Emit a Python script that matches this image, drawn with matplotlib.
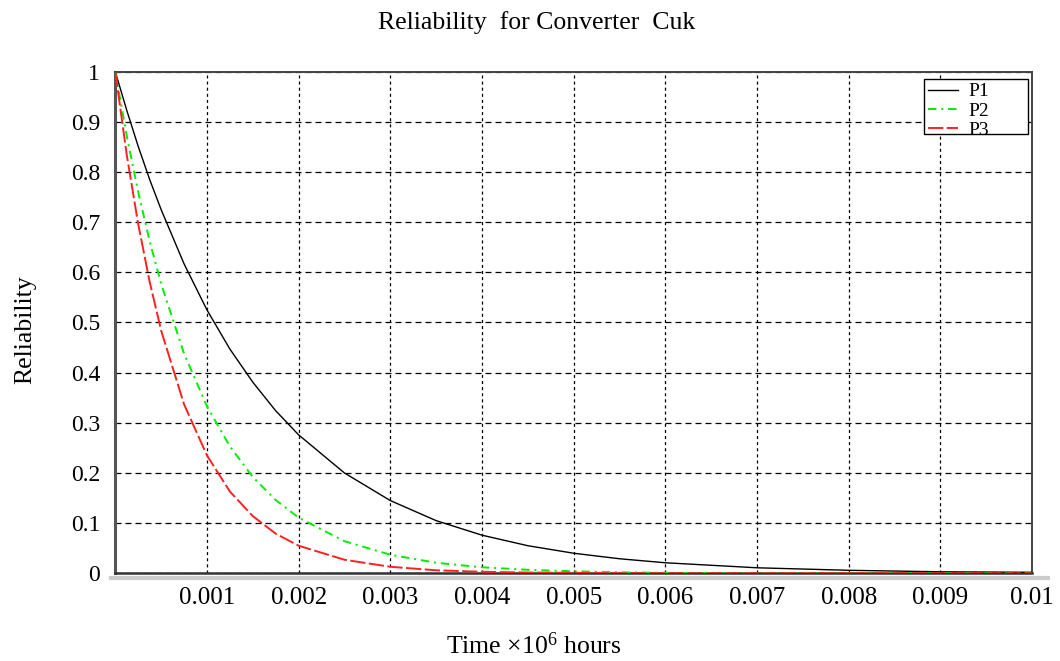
import matplotlib
matplotlib.use('Agg')
import matplotlib.pyplot as plt
from matplotlib.lines import Line2D
from matplotlib.patches import Rectangle

plt.rcParams['font.family'] = ['Liberation Serif', 'DejaVu Serif']
plt.rcParams['mathtext.fontset'] = 'custom'
plt.rcParams['mathtext.rm'] = 'Liberation Serif'
plt.rcParams['mathtext.it'] = 'Liberation Serif:italic'
plt.rcParams['lines.scale_dashes'] = False

# time in units of 10^6 hours
time = [0, 0.000125, 0.00025, 0.000375, 0.0005, 0.00075, 0.001, 0.00125,
        0.0015, 0.00175, 0.002, 0.0025, 0.003, 0.0035, 0.004, 0.0045,
        0.005, 0.0055, 0.006, 0.007, 0.008, 0.009, 0.01]

p1 = [1, 0.923, 0.851, 0.785, 0.725, 0.617, 0.525, 0.447, 0.381, 0.324,
      0.276, 0.200, 0.145, 0.105, 0.076, 0.055, 0.040, 0.029, 0.021,
      0.011, 0.006, 0.003, 0.002]
p2 = [1, 0.872, 0.760, 0.662, 0.577, 0.438, 0.333, 0.253, 0.192, 0.146,
      0.111, 0.064, 0.037, 0.021, 0.012, 0.007, 0.004, 0.002, 0.001,
      0, 0, 0, 0]
p3 = [1, 0.834, 0.696, 0.581, 0.484, 0.337, 0.235, 0.163, 0.114, 0.079,
      0.055, 0.027, 0.013, 0.006, 0.003, 0.0015, 0.001, 0, 0,
      0, 0, 0, 0]

x_ticks = [0.001, 0.002, 0.003, 0.004, 0.005, 0.006, 0.007, 0.008, 0.009, 0.01]
x_labels = ['0.001', '0.002', '0.003', '0.004', '0.005', '0.006', '0.007',
            '0.008', '0.009', '0.01']
y_ticks = [0, 0.1, 0.2, 0.3, 0.4, 0.5, 0.6, 0.7, 0.8, 0.9, 1]
y_labels = ['0', '0.1', '0.2', '0.3', '0.4', '0.5', '0.6', '0.7', '0.8',
            '0.9', '1']


def main():
    W, H = 1060, 661
    fig = plt.figure(figsize=(W / 100, H / 100), dpi=100)
    ax = fig.add_axes([115.3 / W, 1 - 573.3 / H, (1032 - 115.3) / W,
                       (573.3 - 71.7) / H])

    ax.plot(time, p1, color='black', lw=1.0, label='P1', zorder=3)
    ax.plot(time, p2, color='#00ee00', lw=1.4, label='P2', zorder=3,
            linestyle=(0, (6, 3.5, 1.5, 3.5)))
    ax.plot(time, p3, color='#ff2020', lw=1.4, label='P3', zorder=3,
            linestyle=(0, (11, 2.5)))

    ax.set_xlim(0, 0.01)
    ax.set_ylim(0, 1)
    ax.set_xticks(x_ticks)
    ax.set_xticklabels(x_labels)
    ax.set_yticks(y_ticks)
    ax.set_yticklabels(y_labels)
    ax.tick_params(axis='x', length=0, pad=10, labelsize=18)
    ax.tick_params(axis='y', length=0, pad=11, labelsize=17)

    ax.xaxis.grid(True, color='black', lw=0.9, linestyle=(0, (2.2, 2.2)))
    ax.yaxis.grid(True, color='black', lw=0.9, linestyle=(0, (4.3, 2.9)))
    ax.set_axisbelow(True)

    for side in ['top', 'right']:
        ax.spines[side].set_color('#444444')
        ax.spines[side].set_linewidth(1.4)
    ax.spines['left'].set_color('#555555')
    ax.spines['left'].set_linewidth(2.2)
    ax.spines['bottom'].set_color('#333333')
    ax.spines['bottom'].set_linewidth(1.8)

    # light grey shadow under the x axis
    fig.add_artist(Line2D([111 / W, 1048 / W], [1 - 577.5 / H, 1 - 577.5 / H],
                          color='#cccccc', lw=3, transform=fig.transFigure,
                          zorder=0))

    # legend box is drawn separately so it can be wider than its entries
    ax.add_patch(Rectangle((924 / W, 1 - 134 / H), 104 / W, 55 / H,
                           transform=fig.transFigure, facecolor='white',
                           edgecolor='black', lw=1.0, zorder=4))
    leg = ax.legend(loc='upper left', bbox_to_anchor=(924 / W, 1 - 79 / H),
                    bbox_transform=fig.transFigure, frameon=False,
                    borderpad=0.2, borderaxespad=0, handlelength=1.55,
                    handletextpad=0.55, labelspacing=0.08, fontsize=14)
    leg.set_zorder(5)

    fig.text(537 / W, 1 - 23 / H, 'Reliability  for Converter  Cuk',
             ha='center', va='center', fontsize=18.5)
    fig.text(534 / W, 1 - 646 / H, r'Time $\times 10^{6}$ hours',
             ha='center', va='center', fontsize=18.5)
    fig.text(25 / W, 1 - 330 / H, 'Reliability', rotation=90,
             ha='center', va='center', fontsize=18.5)

    fig.savefig('out.png', dpi=100)


if __name__ == '__main__':
    main()
